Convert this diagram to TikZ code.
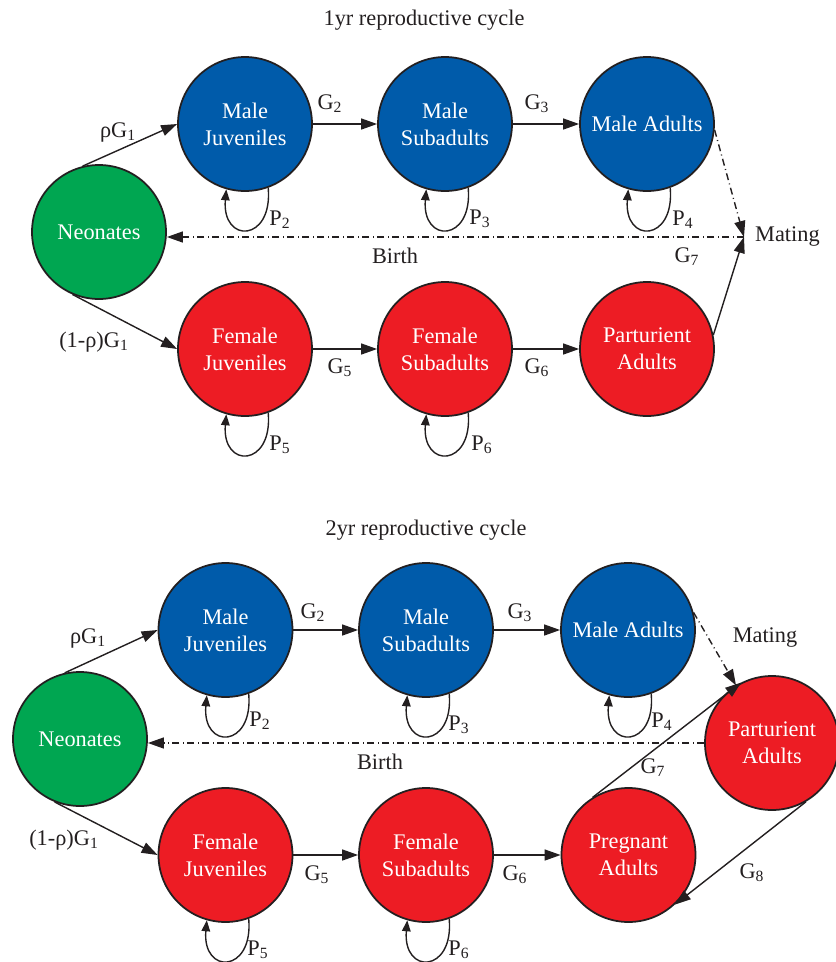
\documentclass[tikz,border=0pt]{standalone}
\usepackage{fontspec}
\setmainfont{Liberation Serif}
\usepackage{tikz}
\usetikzlibrary{positioning,arrows.meta}
\definecolor{azul}{RGB}{0,91,170}
\definecolor{rojo}{RGB}{237,28,36}
\definecolor{verde}{RGB}{0,166,81}
\definecolor{tinta}{RGB}{35,31,32}

\begin{document}
\begin{tikzpicture}[
  estado/.style={circle, draw=tinta, line width=1pt, fill=#1, minimum size=2.68cm,
    inner sep=0pt, align=center, text=white, font=\fontsize{12.7}{15.4}\selectfont},
  flecha/.style={-{Triangle[length=3.2mm,width=2.2mm]}, line width=0.8pt, draw=tinta},
  lazo/.style={-{Triangle[length=2.2mm,width=1.7mm]}, line width=0.8pt, draw=tinta},
  punteada/.style={flecha, dash pattern=on 1.4mm off 0.7mm on 0.2mm off 0.7mm},
  etiq/.style={font=\fontsize{12.7}{15.4}\selectfont, text=tinta}
]
\useasboundingbox (0,0) rectangle (16.72,-19.24);

% 1yr reproductive cycle
\node[etiq] (titA) at (8.48,-0.40) {1yr reproductive cycle};
\node[estado=verde] (neoA) at (1.98,-4.64) {Neonates};
\node[estado=azul] (mjA) at (4.90,-2.48) {Male\\Juveniles};
\node[estado=azul] (msA) at (8.90,-2.48) {Male\\Subadults};
\node[estado=azul] (maA) at (12.94,-2.48) {Male Adults};
\node[estado=rojo] (fjA) at (4.90,-6.98) {Female\\Juveniles};
\node[estado=rojo] (fsA) at (8.90,-6.98) {Female\\Subadults};
\node[estado=rojo] (paA) at (12.94,-6.98) {Parturient\\Adults};
\coordinate (matA) at (14.88,-4.74);
\node[etiq, right=1mm of matA] (matlabA) {Mating};

\draw[flecha] (neoA.104) -- (mjA.west);
\draw[flecha] (neoA.-113) -- (fjA.west);
\draw[flecha] (mjA) -- (msA);
\draw[flecha] (msA) -- (maA);
\draw[flecha] (fjA) -- (fsA);
\draw[flecha] (fsA) -- (paA);
\draw[punteada] (maA.-5) -- (matA);
\draw[flecha] (paA.12) -- (matA);
\draw[punteada] (matA) -- (neoA.east |- matA);

\draw[lazo] (mjA.-70) .. controls +(-85:1.1) and +(-95:1.1) .. (mjA.-106);
\draw[lazo] (msA.-70) .. controls +(-85:1.1) and +(-95:1.1) .. (msA.-106);
\draw[lazo] (maA.-70) .. controls +(-85:1.1) and +(-95:1.1) .. (maA.-106);
\draw[lazo] (fjA.-70) .. controls +(-85:1.1) and +(-95:1.1) .. (fjA.-106);
\draw[lazo] (fsA.-70) .. controls +(-85:1.1) and +(-95:1.1) .. (fsA.-106);

\node[etiq] (g1mA) at (2.36,-2.64) {ρG\textsubscript{1}};
\node[etiq] (g1fA) at (1.88,-6.84) {(1-ρ)G\textsubscript{1}};
\node[etiq] (g2A) at (6.60,-2.08) {G\textsubscript{2}};
\node[etiq] (g3A) at (10.74,-2.08) {G\textsubscript{3}};
\node[etiq] (g5A) at (6.80,-7.36) {G\textsubscript{5}};
\node[etiq] (g6A) at (10.74,-7.36) {G\textsubscript{6}};
\node[etiq] (g7A) at (13.74,-5.14) {G\textsubscript{7}};
\node[etiq] (p2A) at (5.60,-4.40) {P\textsubscript{2}};
\node[etiq] (p3A) at (9.60,-4.38) {P\textsubscript{3}};
\node[etiq] (p4A) at (13.66,-4.40) {P\textsubscript{4}};
\node[etiq] (p5A) at (5.60,-8.90) {P\textsubscript{5}};
\node[etiq] (p6A) at (9.64,-8.90) {P\textsubscript{6}};
\node[etiq] (birthA) at (7.90,-5.12) {Birth};

% 2yr reproductive cycle
\node[etiq] (titB) at (8.52,-10.60) {2yr reproductive cycle};
\node[estado=verde] (neoB) at (1.60,-14.78) {Neonates};
\node[estado=azul] (mjB) at (4.51,-12.60) {Male\\Juveniles};
\node[estado=azul] (msB) at (8.52,-12.60) {Male\\Subadults};
\node[estado=azul] (maB) at (12.56,-12.60) {Male Adults};
\node[estado=rojo] (fjB) at (4.51,-17.10) {Female\\Juveniles};
\node[estado=rojo] (fsB) at (8.52,-17.10) {Female\\Subadults};
\node[estado=rojo] (prB) at (12.57,-17.10) {Pregnant\\Adults};
\node[estado=rojo] (paB) at (15.44,-14.86) {Parturient\\Adults};

\draw[flecha] (neoB.103) -- (mjB.west);
\draw[flecha] (neoB.-112) -- (fjB.west);
\draw[flecha] (mjB) -- (msB);
\draw[flecha] (msB) -- (maB);
\draw[flecha] (fjB) -- (fsB);
\draw[flecha] (fsB) -- (prB);
\draw[punteada] (maB.15) -- (paB.122);
\draw[flecha] (prB.122) -- (paB.117);
\draw[flecha] (paB.-60) -- (prB.-47);
\draw[punteada] (paB.west) -- (neoB.east |- paB.west);

\draw[lazo] (mjB.-70) .. controls +(-85:1.1) and +(-95:1.1) .. (mjB.-106);
\draw[lazo] (msB.-70) .. controls +(-85:1.1) and +(-95:1.1) .. (msB.-106);
\draw[lazo] (maB.-70) .. controls +(-85:1.1) and +(-95:1.1) .. (maB.-106);
\draw[lazo] (fjB.-70) .. controls +(-85:1.1) and +(-95:1.1) .. (fjB.-106);
\draw[lazo] (fsB.-70) .. controls +(-85:1.1) and +(-95:1.1) .. (fsB.-106);

\node[etiq] (g1mB) at (1.76,-12.76) {ρG\textsubscript{1}};
\node[etiq] (g1fB) at (1.28,-16.80) {(1-ρ)G\textsubscript{1}};
\node[etiq] (g2B) at (6.26,-12.26) {G\textsubscript{2}};
\node[etiq] (g3B) at (10.40,-12.26) {G\textsubscript{3}};
\node[etiq] (g5B) at (6.34,-17.50) {G\textsubscript{5}};
\node[etiq] (g6B) at (10.30,-17.50) {G\textsubscript{6}};
\node[etiq] (g7B) at (13.06,-15.36) {G\textsubscript{7}};
\node[etiq] (g8B) at (15.04,-17.46) {G\textsubscript{8}};
\node[etiq] (p2B) at (5.20,-14.42) {P\textsubscript{2}};
\node[etiq] (p3B) at (9.18,-14.50) {P\textsubscript{3}};
\node[etiq] (p4B) at (13.24,-14.44) {P\textsubscript{4}};
\node[etiq] (p5B) at (5.16,-19.00) {P\textsubscript{5}};
\node[etiq] (p6B) at (9.18,-19.00) {P\textsubscript{6}};
\node[etiq] (birthB) at (7.60,-15.24) {Birth};
\node[etiq] (matlabB) at (15.30,-12.76) {Mating};
\end{tikzpicture}
\end{document}
